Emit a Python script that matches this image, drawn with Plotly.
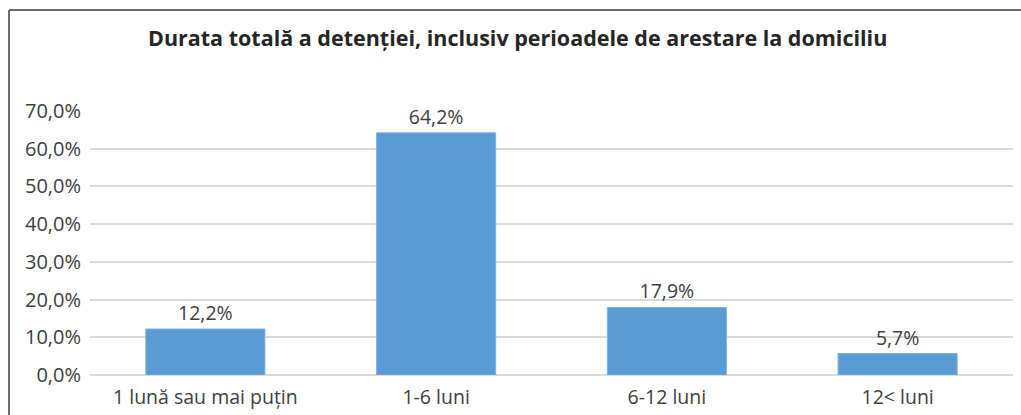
import plotly.graph_objects as go

categories = ["1 lună sau mai puțin", "1-6 luni", "6-12 luni", "12< luni"]
values = [12.2, 64.2, 17.9, 5.7]
tick_vals = [0, 10, 20, 30, 40, 50, 60, 70]
tick_text = ["0,0%", "10,0%", "20,0%", "30,0%", "40,0%", "50,0%", "60,0%", "70,0%"]
labels = [f"{v:.1f}%".replace(".", ",") for v in values]
title = "Durata totală a detenției, inclusiv perioadele de arestare la domiciliu"

W, H = 1021, 415
L, R, T, B = 90, 8, 111, 40
pw, ph = W - L - R, H - T - B

fig = go.Figure(go.Bar(
    x=categories, y=values, text=labels, textposition="outside",
    textfont=dict(size=19.5, color="#404040", family="Open Sans"),
    marker=dict(color="#5b9bd5", line=dict(color="#7fb0de", width=1)),
    cliponaxis=False,
))

fig.update_layout(
    width=W, height=H, autosize=False,
    margin=dict(l=L, r=R, t=T, b=B, autoexpand=False),
    paper_bgcolor="white", plot_bgcolor="white",
    bargap=0.484,
    showlegend=False,
    font=dict(family="Open Sans", color="#404040"),
    title=dict(text="<b>" + title + "</b>", x=0.507, xanchor="center",
               y=1 - 38 / H, yanchor="middle",
               font=dict(size=21.5, color="#262626", family="Open Sans")),
    xaxis=dict(showgrid=False, showline=False, ticks="", automargin=False,
               ticklabelstandoff=8,
               tickfont=dict(size=19.5, color="#404040")),
    yaxis=dict(range=[0, 70], tickvals=tick_vals, ticktext=tick_text,
               showgrid=True, gridcolor="#d9d9d9", gridwidth=1.5,
               zeroline=True, zerolinecolor="#d9d9d9", zerolinewidth=1.5,
               showline=False, ticks="", ticklabelstandoff=8, automargin=False,
               tickfont=dict(size=20, color="#404040")),
    shapes=[
        dict(type="line", xref="paper", yref="paper",
             x0=(9 - L) / pw, x1=(W + 5 - L) / pw,
             y0=1 + (T - 10) / ph, y1=1 + (T - 10) / ph,
             line=dict(color="#6b6b6b", width=2)),
        dict(type="line", xref="paper", yref="paper",
             x0=(9 - L) / pw, x1=(9 - L) / pw,
             y0=1 + (T - 10) / ph, y1=-(B + 10) / ph,
             line=dict(color="#6b6b6b", width=2)),
    ],
)

fig.write_html(
    "out.html",
    config={"displayModeBar": False},
    post_script="document.body.style.margin='0';document.body.style.overflow='hidden';",
)
